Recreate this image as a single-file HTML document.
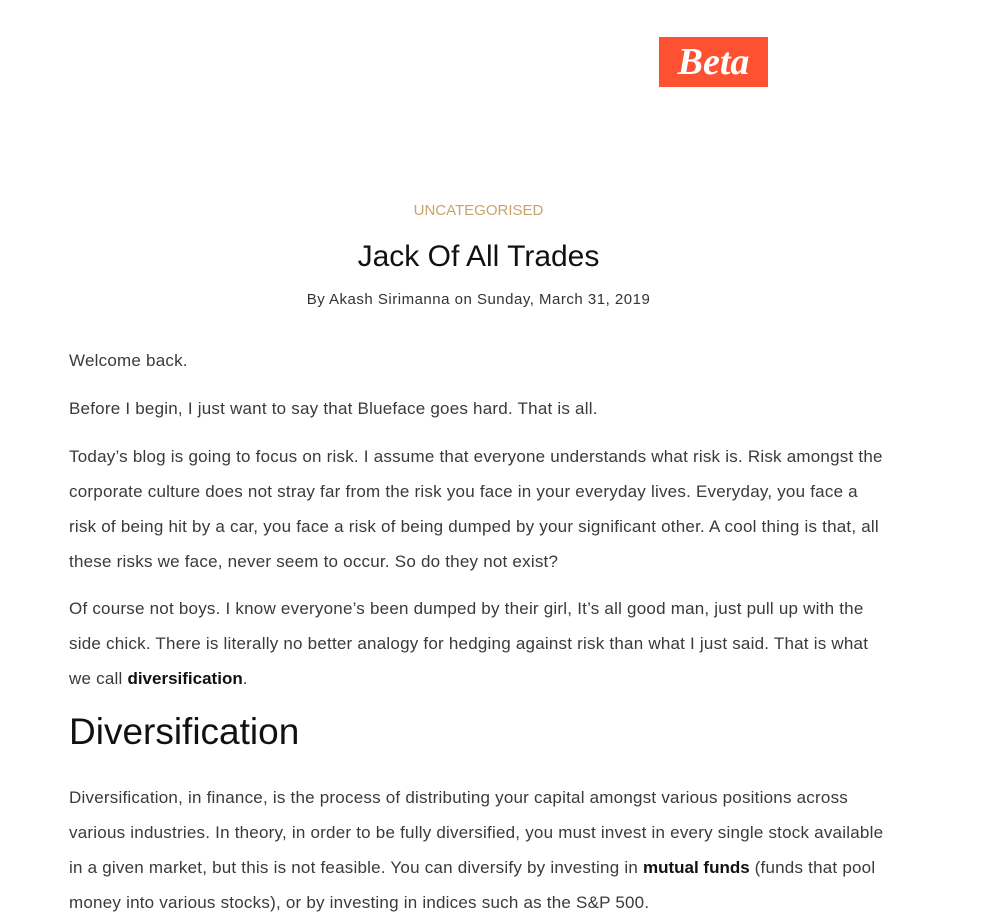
<!DOCTYPE html>
<html><head><meta charset="utf-8"><style>
body{margin:0;width:993px;height:921px;background:#fff;position:relative;overflow:hidden;font-family:"Liberation Sans",sans-serif;color:#222}
.l{position:absolute;left:69px;white-space:nowrap;font-size:17px;line-height:34px;height:34px;color:#3a3a3a;letter-spacing:0.22px}
.c{position:absolute;left:0;width:957px;text-align:center;white-space:nowrap}
b{font-weight:bold;color:#111;letter-spacing:0}
</style></head><body>
<div style="position:absolute;left:659px;top:37px;width:109px;height:50px;background:#fd5132;color:#fff;font-family:'Liberation Serif',serif;font-style:italic;font-weight:bold;font-size:38px;line-height:50px;text-align:center">Beta</div>
<div class="c" style="top:201px;font-size:15px;line-height:20px;color:#c9a46a">UNCATEGORISED</div>
<div class="c" style="top:238px;font-size:30px;line-height:38px;color:#111">Jack Of All Trades</div>
<div class="c" style="top:290px;font-size:15px;line-height:20px;color:#333;letter-spacing:0.5px">By Akash Sirimanna on Sunday, March 31, 2019</div>
<div>
<div class="l" style="top:344px">Welcome back.</div>
<div class="l" style="top:392px">Before I begin, I just want to say that Blueface goes hard. That is all.</div>
<div class="l" style="top:440px">Today’s blog is going to focus on risk. I assume that everyone understands what risk is. Risk amongst the</div>
<div class="l" style="top:475px">corporate culture does not stray far from the risk you face in your everyday lives. Everyday, you face a</div>
<div class="l" style="top:510px">risk of being hit by a car, you face a risk of being dumped by your significant other. A cool thing is that, all</div>
<div class="l" style="top:545px">these risks we face, never seem to occur. So do they not exist?</div>
<div class="l" style="top:592px">Of course not boys. I know everyone’s been dumped by their girl, It’s all good man, just pull up with the</div>
<div class="l" style="top:627px">side chick. There is literally no better analogy for hedging against risk than what I just said. That is what</div>
<div class="l" style="top:662px">we call <b>diversification</b>.</div>
<div style="position:absolute;left:69px;top:708px;font-size:37px;line-height:48px;color:#111;white-space:nowrap">Diversification</div>
<div class="l" style="top:781px">Diversification, in finance, is the process of distributing your capital amongst various positions across</div>
<div class="l" style="top:816px">various industries. In theory, in order to be fully diversified, you must invest in every single stock available</div>
<div class="l" style="top:851px">in a given market, but this is not feasible. You can diversify by investing in <b>mutual funds</b> (funds that pool</div>
<div class="l" style="top:886px">money into various stocks), or by investing in indices such as the S&amp;P 500.</div>
</div>
</body></html>
